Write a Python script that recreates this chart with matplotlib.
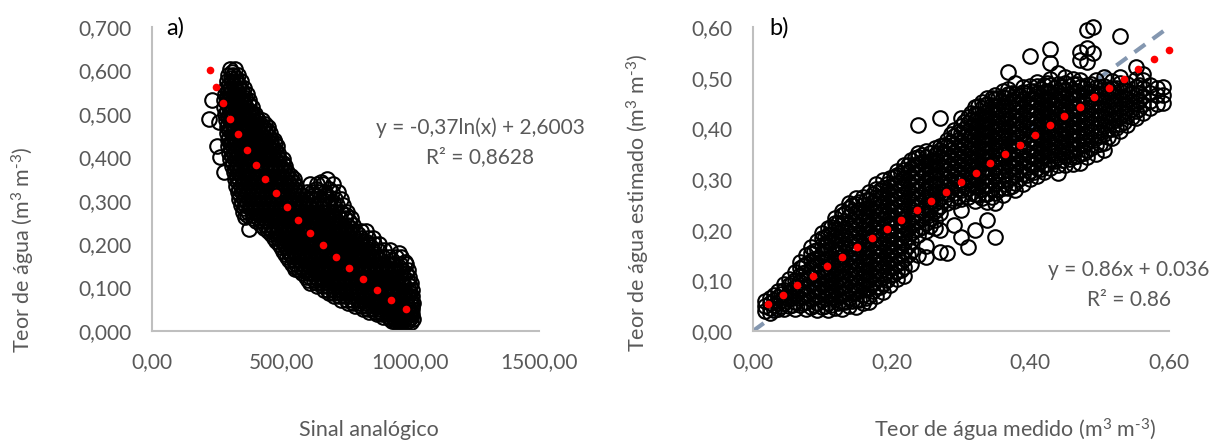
import matplotlib
matplotlib.use('Agg')
import matplotlib.pyplot as plt
from matplotlib.ticker import FuncFormatter, MultipleLocator

plt.rcParams['font.family'] = ['Lato', 'DejaVu Sans']
plt.rcParams['mathtext.fontset'] = 'custom'
plt.rcParams['mathtext.rm'] = 'Lato'
plt.rcParams['mathtext.it'] = 'Lato:italic'
plt.rcParams['mathtext.default'] = 'rm'

CINZA = '#595959'

# ---- painel a) : teor de agua x sinal analogico (linhas do grafico lidas a olho)
teor_a_niveis = [0.603, 0.590, 0.575, 0.560, 0.545, 0.531, 0.515, 0.500, 0.489, 0.485,
                 0.481, 0.470, 0.455, 0.440, 0.425, 0.410, 0.401, 0.395, 0.380, 0.366,
                 0.350, 0.338, 0.335, 0.320, 0.305, 0.290, 0.275, 0.263, 0.260, 0.245,
                 0.234, 0.230, 0.215, 0.200, 0.186, 0.185, 0.179, 0.170, 0.160, 0.155,
                 0.142, 0.140, 0.125, 0.110, 0.095, 0.080, 0.065, 0.050, 0.038, 0.028,
                 0.020]
sinal_a_linhas = [
    [304, 321],
    [296, 313, 333],
    [291, 309, 326, 344],
    [286, 303, 321, 338, 357],
    [283, 297, 316, 333, 351, 370],
    [233, 280, 294, 313, 331, 352, 375],
    [281, 299, 311, 329, 348, 366, 386],
    [284, 297, 316, 335, 351, 372, 389, 400],
    [221],
    [287, 304, 320, 341, 359, 377, 396, 411, 426],
    [259],
    [289, 302, 322, 339, 356, 375, 394, 414, 431, 451],
    [291, 309, 328, 344, 365, 383, 399, 420, 440, 457],
    [293, 311, 330, 351, 368, 386, 405, 422, 445, 461, 472],
    [251, 296, 314, 333, 349, 371, 390, 408, 427, 448, 466, 484],
    [299, 318, 336, 355, 373, 392, 413, 431, 452, 470, 488],
    [263],
    [303, 320, 341, 358, 379, 396, 417, 434, 455, 475, 493, 506],
    [309, 325, 344, 364, 381, 402, 420, 441, 460, 478, 498, 516],
    [278, 316, 333, 352, 370, 389, 410, 427, 448, 466, 487, 506, 523],
    [321, 338, 358, 375, 395, 414, 433, 452, 473, 492, 512, 533, 551, 677],
    [612, 640, 662, 700],
    [326, 344, 363, 381, 400, 420, 440, 459, 479, 497, 518, 540, 558],
    [333, 350, 369, 388, 407, 426, 446, 465, 485, 505, 524, 546, 566, 601, 622, 648, 671, 696, 722],
    [339, 357, 375, 394, 414, 434, 452, 474, 492, 513, 533, 553, 574, 595, 616, 637, 660, 684, 708, 731],
    [346, 362, 381, 401, 419, 440, 459, 480, 500, 520, 541, 560, 582, 603, 624, 646, 668, 691, 717, 741],
    [353, 372, 392, 412, 430, 451, 472, 491, 512, 532, 554, 575, 594, 617, 638, 661, 683, 707, 731, 756],
    [360],
    [393, 412, 431, 452, 471, 492, 511, 532, 553, 573, 594, 613, 635, 657, 678, 701, 724, 747, 771],
    [421, 439, 460, 480, 499, 520, 541, 561, 582, 601, 623, 645, 666, 688, 709, 733, 756, 781],
    [375],
    [449, 467, 488, 507, 528, 548, 569, 590, 610, 631, 653, 674, 697, 718, 741, 764, 788, 812, 831],
    [471, 489, 510, 530, 549, 570, 591, 612, 632, 654, 676, 697, 719, 741, 764, 787, 811, 836, 858],
    [493, 511, 531, 552, 573, 593, 614, 635, 657, 678, 699, 722, 744, 766, 789, 813, 837, 861, 881],
    [898, 921],
    [509, 527, 548, 568, 589, 610, 631, 652, 674, 696, 718, 740, 762, 785, 808, 832, 855, 879],
    [958],
    [523, 542, 562, 583, 604, 625, 646, 668, 689, 711, 733, 755, 778, 801, 824, 847, 871, 895, 920, 944, 966],
    [981],
    [541, 559, 580, 600, 621, 643, 664, 685, 707, 729, 752, 774, 797, 820, 843, 866, 889, 912, 936, 960, 983],
    [555],
    [571, 589, 610, 631, 652, 673, 694, 717, 739, 761, 784, 806, 829, 852, 875, 898, 921, 944, 968, 991],
    [596, 614, 635, 656, 677, 699, 720, 742, 765, 787, 810, 832, 855, 878, 901, 924, 947, 971, 996],
    [613, 638, 657, 678, 700, 722, 744, 766, 789, 811, 834, 857, 880, 903, 926, 950, 973, 1003],
    [666, 684, 705, 727, 749, 771, 793, 816, 838, 861, 884, 907, 930, 953, 976, 997, 1009],
    [706, 724, 746, 768, 790, 812, 835, 857, 880, 903, 926, 949, 972, 994, 1009],
    [761, 781, 803, 825, 847, 870, 892, 915, 938, 961, 983, 1004, 1011],
    [816, 836, 858, 880, 903, 925, 948, 970, 992, 1007],
    [871, 891, 912, 933, 955, 976, 996, 1008],
    [921, 939, 958, 977, 996, 1012],
    [946, 964, 983, 1003],
]

# pontos do miolo da nuvem, entre as linhas acima
teor_a_meio = [0.5975, 0.5825, 0.5675, 0.5525, 0.5375, 0.5230, 0.5075, 0.4925, 0.4775, 0.4625,
               0.4475, 0.4325, 0.4175, 0.4025, 0.3875, 0.3725, 0.3575, 0.3425, 0.3275, 0.3125,
               0.2975, 0.2825, 0.2675, 0.2525, 0.2375, 0.2225, 0.2075, 0.1925, 0.1775, 0.1625,
               0.1475, 0.1325, 0.1175, 0.1025, 0.0875, 0.0725, 0.0575, 0.0440, 0.0330, 0.0240]
sinal_a_meio = [
    [312],
    [305, 325],
    [299, 317, 336],
    [294, 312, 330, 348],
    [290, 307, 324, 342, 361],
    [289, 305, 321, 339, 357, 376],
    [291, 308, 325, 343, 360, 380],
    [293, 311, 329, 347, 366, 384, 404],
    [296, 313, 331, 349, 367, 386, 404, 420, 438],
    [298, 317, 334, 353, 371, 390, 408, 426, 445],
    [300, 319, 339, 357, 377, 396, 414, 433, 452],
    [304, 323, 342, 361, 381, 399, 418, 437, 456, 475],
    [307, 326, 346, 364, 384, 403, 422, 441, 460, 478],
    [310, 330, 349, 369, 388, 407, 426, 446, 465, 484],
    [314, 334, 354, 373, 393, 412, 431, 451, 470, 489, 507],
    [320, 340, 359, 379, 398, 418, 437, 457, 476, 495, 513],
    [327, 347, 366, 386, 405, 424, 444, 463, 483, 502, 522, 540],
    [332, 352, 372, 391, 410, 430, 450, 469, 489, 508, 528, 546, 655],
    [338, 358, 377, 397, 416, 436, 456, 475, 495, 514, 534, 553, 636, 686],
    [343, 362, 382, 402, 422, 442, 461, 481, 500, 520, 540, 560, 580, 628, 676],
    [350, 370, 390, 410, 430, 450, 470, 490, 510, 530, 550, 570, 590, 612, 657, 703],
    [357, 378, 398, 418, 438, 458, 478, 498, 518, 538, 558, 578, 598, 620, 664, 710],
    [370, 392, 414, 434, 454, 474, 494, 514, 534, 555, 575, 596, 617, 638, 660, 704, 750],
    [405, 426, 446, 466, 486, 506, 527, 547, 567, 588, 609, 630, 651, 672, 694, 716, 762],
    [433, 454, 474, 494, 515, 535, 555, 576, 597, 618, 639, 660, 681, 703, 725, 748, 771],
    [460, 480, 500, 520, 540, 560, 581, 602, 623, 644, 665, 686, 708, 730, 752, 775, 799],
    [482, 502, 522, 542, 562, 583, 604, 625, 646, 667, 689, 711, 733, 755, 778, 801, 825],
    [500, 520, 541, 562, 583, 604, 625, 646, 667, 689, 711, 733, 755, 778, 801, 824, 848],
    [516, 536, 557, 578, 599, 620, 641, 663, 685, 707, 729, 751, 773, 796, 819, 842, 866],
    [532, 552, 573, 594, 615, 636, 657, 679, 701, 723, 745, 767, 790, 813, 836, 859, 882, 930],
    [556, 576, 597, 618, 639, 660, 682, 704, 726, 748, 771, 794, 817, 840, 863, 886, 909, 957],
    [583, 603, 624, 645, 666, 688, 710, 732, 754, 777, 800, 823, 846, 869, 892, 915, 938, 962, 986],
    [604, 626, 647, 668, 690, 712, 734, 756, 779, 802, 825, 848, 871, 894, 917, 940, 964, 988],
    [640, 661, 682, 704, 726, 748, 771, 794, 817, 840, 863, 886, 909, 932, 955, 978, 1000],
    [686, 706, 728, 750, 772, 795, 818, 841, 864, 887, 910, 933, 956, 979, 1001],
    [733, 754, 776, 799, 822, 845, 868, 891, 914, 937, 960, 983, 1004],
    [788, 810, 832, 855, 878, 901, 924, 947, 970, 993, 1008],
    [843, 866, 889, 912, 935, 958, 980, 1002],
    [895, 917, 939, 961, 983, 1003],
    [930, 952, 974, 994],
]

# linha de tendencia (pontos vermelhos)
sinal_tend = [223, 248, 274, 302, 334, 367, 402, 439, 480, 522,
              566, 614, 664, 713, 764, 817, 873, 928, 984]
teor_tend = [0.600, 0.562, 0.524, 0.488, 0.453, 0.416, 0.383, 0.349, 0.317, 0.285,
             0.255, 0.226, 0.197, 0.170, 0.144, 0.120, 0.095, 0.072, 0.051]

# ---- painel b) : teor estimado x teor medido (colunas lidas a olho)
medido_b_colunas = [0.018, 0.024, 0.030, 0.036, 0.044, 0.052, 0.060, 0.068, 0.076, 0.084,
                    0.092, 0.100, 0.108, 0.118, 0.128, 0.138, 0.148, 0.158, 0.168, 0.178,
                    0.188, 0.198, 0.208, 0.218, 0.228, 0.238, 0.250, 0.262, 0.270, 0.280,
                    0.290, 0.300, 0.310, 0.320, 0.330, 0.338, 0.349, 0.360, 0.368, 0.378,
                    0.390, 0.400, 0.410, 0.420, 0.428, 0.440, 0.450, 0.462, 0.472, 0.482,
                    0.490, 0.494, 0.506, 0.518, 0.530, 0.540, 0.552, 0.562, 0.572, 0.582,
                    0.592]
estimado_b_colunas = [
    [0.040, 0.050, 0.060],
    [0.036, 0.046, 0.055, 0.066],
    [0.041, 0.051, 0.061, 0.071],
    [0.044, 0.056, 0.067, 0.078],
    [0.043, 0.055, 0.068, 0.081, 0.093],
    [0.049, 0.063, 0.076, 0.090, 0.103],
    [0.044, 0.058, 0.071, 0.086, 0.101, 0.117],
    [0.051, 0.066, 0.080, 0.096, 0.111, 0.124, 0.136],
    [0.044, 0.058, 0.072, 0.087, 0.103, 0.117, 0.133, 0.150],
    [0.048, 0.064, 0.079, 0.093, 0.109, 0.124, 0.139, 0.153, 0.166],
    [0.042, 0.056, 0.070, 0.085, 0.100, 0.115, 0.131, 0.145, 0.160, 0.177],
    [0.047, 0.062, 0.078, 0.093, 0.108, 0.122, 0.138, 0.153, 0.169, 0.183, 0.193],
    [0.041, 0.055, 0.069, 0.084, 0.099, 0.114, 0.129, 0.144, 0.159, 0.175, 0.190, 0.204],
    [0.046, 0.063, 0.079, 0.094, 0.110, 0.125, 0.141, 0.156, 0.171, 0.186, 0.201, 0.214, 0.223],
    [0.044, 0.058, 0.073, 0.088, 0.103, 0.118, 0.134, 0.149, 0.165, 0.181, 0.197, 0.213, 0.229, 0.237],
    [0.050, 0.066, 0.083, 0.099, 0.115, 0.131, 0.147, 0.163, 0.179, 0.195, 0.211, 0.227, 0.243, 0.253],
    [0.047, 0.061, 0.076, 0.091, 0.107, 0.122, 0.138, 0.154, 0.170, 0.186, 0.202, 0.218, 0.234, 0.250, 0.262],
    [0.055, 0.072, 0.089, 0.105, 0.121, 0.137, 0.153, 0.169, 0.185, 0.201, 0.217, 0.233, 0.249, 0.264],
    [0.057, 0.070, 0.085, 0.100, 0.116, 0.132, 0.147, 0.163, 0.179, 0.195, 0.211, 0.227, 0.243, 0.259, 0.274],
    [0.069, 0.087, 0.104, 0.120, 0.136, 0.152, 0.168, 0.184, 0.200, 0.216, 0.232, 0.248, 0.264, 0.280, 0.291],
    [0.076, 0.092, 0.107, 0.122, 0.138, 0.155, 0.171, 0.186, 0.202, 0.219, 0.235, 0.251, 0.267, 0.283, 0.298],
    [0.091, 0.110, 0.127, 0.143, 0.159, 0.175, 0.191, 0.207, 0.223, 0.239, 0.255, 0.271, 0.287, 0.301],
    [0.103, 0.118, 0.133, 0.149, 0.165, 0.181, 0.197, 0.213, 0.229, 0.245, 0.261, 0.277, 0.293, 0.308, 0.316],
    [0.108, 0.127, 0.143, 0.158, 0.174, 0.190, 0.206, 0.222, 0.238, 0.254, 0.270, 0.286, 0.302, 0.318, 0.327],
    [0.133, 0.158, 0.177, 0.193, 0.209, 0.225, 0.241, 0.257, 0.273, 0.289, 0.305, 0.321, 0.337],
    [0.150, 0.190, 0.202, 0.217, 0.233, 0.249, 0.265, 0.281, 0.297, 0.313, 0.329, 0.344, 0.352, 0.406],
    [0.147, 0.167, 0.198, 0.214, 0.230, 0.247, 0.263, 0.279, 0.295, 0.311, 0.327, 0.343, 0.356],
    [0.203, 0.220, 0.236, 0.252, 0.268, 0.284, 0.300, 0.316, 0.332, 0.348, 0.361],
    [0.155, 0.199, 0.232, 0.247, 0.262, 0.277, 0.293, 0.309, 0.325, 0.341, 0.357, 0.366, 0.420],
    [0.153, 0.252, 0.270, 0.286, 0.302, 0.318, 0.334, 0.350, 0.365, 0.376],
    [0.210, 0.257, 0.273, 0.289, 0.305, 0.321, 0.337, 0.353, 0.369, 0.384, 0.396],
    [0.186, 0.239, 0.260, 0.278, 0.294, 0.310, 0.326, 0.342, 0.358, 0.374, 0.390, 0.404, 0.420],
    [0.166, 0.264, 0.282, 0.298, 0.314, 0.330, 0.346, 0.362, 0.378, 0.394, 0.410, 0.422],
    [0.199, 0.256, 0.271, 0.286, 0.302, 0.318, 0.334, 0.350, 0.366, 0.382, 0.398, 0.414, 0.428, 0.442],
    [0.262, 0.280, 0.297, 0.313, 0.329, 0.345, 0.361, 0.377, 0.393, 0.409, 0.425, 0.440, 0.451],
    [0.219, 0.255, 0.271, 0.287, 0.304, 0.320, 0.336, 0.352, 0.369, 0.385, 0.401, 0.417, 0.433, 0.448, 0.459],
    [0.185, 0.253, 0.272, 0.290, 0.307, 0.324, 0.341, 0.358, 0.375, 0.392, 0.409, 0.426, 0.443, 0.458, 0.466],
    [0.268, 0.283, 0.299, 0.315, 0.331, 0.348, 0.364, 0.380, 0.397, 0.413, 0.429, 0.445, 0.461, 0.474],
    [0.282, 0.300, 0.317, 0.334, 0.351, 0.368, 0.385, 0.402, 0.419, 0.436, 0.452, 0.467, 0.478, 0.511],
    [0.278, 0.292, 0.308, 0.324, 0.340, 0.356, 0.372, 0.388, 0.404, 0.420, 0.436, 0.452, 0.468, 0.489],
    [0.291, 0.309, 0.325, 0.342, 0.358, 0.375, 0.391, 0.408, 0.424, 0.441, 0.457, 0.472, 0.481],
    [0.300, 0.315, 0.330, 0.346, 0.362, 0.378, 0.394, 0.410, 0.426, 0.442, 0.458, 0.474, 0.484, 0.543],
    [0.305, 0.322, 0.339, 0.356, 0.372, 0.388, 0.404, 0.421, 0.437, 0.453, 0.469, 0.483, 0.491],
    [0.313, 0.328, 0.343, 0.359, 0.375, 0.391, 0.407, 0.423, 0.439, 0.455, 0.471, 0.486],
    [0.322, 0.340, 0.357, 0.373, 0.390, 0.406, 0.422, 0.438, 0.455, 0.471, 0.486, 0.497, 0.529, 0.556],
    [0.312, 0.328, 0.344, 0.360, 0.376, 0.392, 0.408, 0.424, 0.440, 0.456, 0.472, 0.488, 0.509],
    [0.327, 0.345, 0.361, 0.378, 0.394, 0.411, 0.427, 0.443, 0.459, 0.475, 0.490, 0.501],
    [0.330, 0.344, 0.360, 0.376, 0.392, 0.408, 0.424, 0.440, 0.456, 0.472, 0.488, 0.497],
    [0.331, 0.350, 0.367, 0.384, 0.401, 0.417, 0.433, 0.449, 0.465, 0.481, 0.495, 0.534, 0.551],
    [0.343, 0.358, 0.373, 0.389, 0.405, 0.421, 0.437, 0.453, 0.469, 0.485, 0.531, 0.558, 0.594],
    [0.548, 0.600],
    [0.350, 0.368, 0.385, 0.401, 0.418, 0.434, 0.450, 0.466, 0.482, 0.496],
    [0.357, 0.372, 0.388, 0.404, 0.420, 0.436, 0.452, 0.468, 0.484, 0.501],
    [0.380, 0.398, 0.414, 0.431, 0.447, 0.463, 0.479, 0.494],
    [0.395, 0.409, 0.425, 0.441, 0.457, 0.473, 0.489, 0.501, 0.582],
    [0.406, 0.424, 0.441, 0.457, 0.473, 0.488],
    [0.420, 0.434, 0.450, 0.466, 0.482, 0.498, 0.521],
    [0.430, 0.448, 0.464, 0.480, 0.495, 0.508],
    [0.440, 0.454, 0.470, 0.486],
    [0.448, 0.465, 0.480],
    [0.450, 0.466, 0.481],
]

# pontos do miolo da nuvem, entre as colunas acima
medido_b_meio = [0.040, 0.056, 0.072, 0.088, 0.104, 0.113, 0.123, 0.133, 0.143, 0.153,
                 0.163, 0.173, 0.183, 0.193, 0.203, 0.213, 0.223, 0.233, 0.244, 0.256,
                 0.266, 0.275, 0.285, 0.295, 0.305, 0.315, 0.325, 0.334, 0.344, 0.354,
                 0.364, 0.373, 0.384, 0.395, 0.405, 0.415, 0.424, 0.434, 0.445, 0.456,
                 0.467, 0.477, 0.488, 0.500, 0.512, 0.524, 0.535, 0.546, 0.557]
estimado_b_meio = [
    [0.050, 0.062, 0.074],
    [0.052, 0.066, 0.080, 0.094],
    [0.055, 0.070, 0.085, 0.100, 0.115, 0.128],
    [0.052, 0.067, 0.082, 0.097, 0.112, 0.127, 0.142, 0.157],
    [0.050, 0.065, 0.080, 0.095, 0.110, 0.125, 0.140, 0.155, 0.170, 0.185],
    [0.052, 0.068, 0.083, 0.099, 0.114, 0.130, 0.145, 0.161, 0.176, 0.192, 0.206],
    [0.055, 0.071, 0.087, 0.103, 0.119, 0.135, 0.151, 0.167, 0.183, 0.199, 0.214],
    [0.057, 0.073, 0.089, 0.105, 0.121, 0.137, 0.153, 0.169, 0.185, 0.201, 0.217, 0.232],
    [0.060, 0.076, 0.092, 0.108, 0.124, 0.140, 0.156, 0.172, 0.188, 0.204, 0.220, 0.236, 0.248],
    [0.062, 0.079, 0.095, 0.111, 0.127, 0.143, 0.159, 0.175, 0.191, 0.207, 0.223, 0.239, 0.255],
    [0.066, 0.082, 0.098, 0.114, 0.130, 0.146, 0.162, 0.178, 0.194, 0.210, 0.226, 0.242, 0.258],
    [0.078, 0.094, 0.110, 0.126, 0.142, 0.158, 0.174, 0.190, 0.206, 0.222, 0.238, 0.254, 0.270],
    [0.086, 0.102, 0.118, 0.134, 0.150, 0.166, 0.182, 0.198, 0.214, 0.230, 0.246, 0.262, 0.278],
    [0.100, 0.116, 0.132, 0.148, 0.164, 0.180, 0.196, 0.212, 0.228, 0.244, 0.260, 0.276, 0.290],
    [0.112, 0.128, 0.144, 0.160, 0.176, 0.192, 0.208, 0.224, 0.240, 0.256, 0.272, 0.288, 0.304],
    [0.120, 0.136, 0.152, 0.168, 0.184, 0.200, 0.216, 0.232, 0.248, 0.264, 0.280, 0.296, 0.311],
    [0.150, 0.168, 0.185, 0.201, 0.217, 0.233, 0.249, 0.265, 0.281, 0.297, 0.313, 0.328],
    [0.200, 0.215, 0.231, 0.247, 0.263, 0.279, 0.295, 0.311, 0.327, 0.342],
    [0.205, 0.221, 0.237, 0.253, 0.269, 0.285, 0.301, 0.317, 0.333, 0.347],
    [0.208, 0.224, 0.240, 0.256, 0.272, 0.288, 0.304, 0.320, 0.336, 0.351],
    [0.240, 0.256, 0.272, 0.288, 0.304, 0.320, 0.336, 0.352],
    [0.258, 0.274, 0.290, 0.306, 0.322, 0.338, 0.354, 0.368],
    [0.262, 0.278, 0.294, 0.310, 0.326, 0.342, 0.358, 0.374, 0.388],
    [0.265, 0.281, 0.297, 0.313, 0.329, 0.345, 0.361, 0.377, 0.393],
    [0.270, 0.286, 0.302, 0.318, 0.334, 0.350, 0.366, 0.382, 0.398, 0.412],
    [0.272, 0.288, 0.304, 0.320, 0.336, 0.352, 0.368, 0.384, 0.400, 0.416, 0.430],
    [0.268, 0.284, 0.300, 0.316, 0.332, 0.348, 0.364, 0.380, 0.396, 0.412, 0.428, 0.444],
    [0.270, 0.287, 0.303, 0.319, 0.335, 0.351, 0.367, 0.383, 0.399, 0.415, 0.431, 0.447],
    [0.265, 0.281, 0.298, 0.314, 0.331, 0.347, 0.364, 0.380, 0.397, 0.413, 0.430, 0.446, 0.460],
    [0.279, 0.296, 0.312, 0.329, 0.345, 0.362, 0.378, 0.395, 0.411, 0.428, 0.444, 0.460],
    [0.291, 0.308, 0.325, 0.342, 0.359, 0.376, 0.393, 0.410, 0.427, 0.444, 0.460],
    [0.287, 0.304, 0.321, 0.338, 0.355, 0.372, 0.389, 0.406, 0.423, 0.440, 0.456, 0.470],
    [0.300, 0.317, 0.334, 0.350, 0.366, 0.383, 0.400, 0.416, 0.432, 0.449, 0.465],
    [0.308, 0.323, 0.338, 0.354, 0.370, 0.386, 0.402, 0.418, 0.434, 0.450, 0.466],
    [0.313, 0.330, 0.346, 0.362, 0.378, 0.394, 0.410, 0.426, 0.442, 0.458, 0.474],
    [0.320, 0.336, 0.352, 0.368, 0.384, 0.400, 0.416, 0.432, 0.448, 0.464, 0.478],
    [0.330, 0.346, 0.362, 0.378, 0.394, 0.410, 0.426, 0.442, 0.458, 0.474, 0.490],
    [0.335, 0.351, 0.367, 0.383, 0.399, 0.415, 0.431, 0.447, 0.463, 0.479],
    [0.337, 0.353, 0.369, 0.385, 0.401, 0.417, 0.433, 0.449, 0.465, 0.481],
    [0.340, 0.356, 0.372, 0.388, 0.404, 0.420, 0.436, 0.452, 0.468, 0.483],
    [0.345, 0.361, 0.377, 0.393, 0.409, 0.425, 0.441, 0.457, 0.473, 0.488],
    [0.352, 0.368, 0.384, 0.400, 0.416, 0.432, 0.448, 0.464, 0.480],
    [0.362, 0.378, 0.394, 0.410, 0.426, 0.442, 0.458, 0.474, 0.488],
    [0.370, 0.386, 0.402, 0.418, 0.434, 0.450, 0.466, 0.482],
    [0.382, 0.398, 0.414, 0.430, 0.446, 0.462, 0.478],
    [0.400, 0.416, 0.432, 0.448, 0.464, 0.480],
    [0.412, 0.428, 0.444, 0.460, 0.476],
    [0.422, 0.438, 0.454, 0.470],
    [0.438, 0.454, 0.470, 0.486],
]

medido_tend = [0.022, 0.043, 0.064, 0.086, 0.107, 0.128, 0.150, 0.171, 0.193, 0.214,
               0.236, 0.257, 0.278, 0.300, 0.321, 0.342, 0.364, 0.385, 0.407, 0.428,
               0.449, 0.471, 0.492, 0.514, 0.535, 0.556, 0.578, 0.600]
estimado_tend = [0.053, 0.072, 0.090, 0.109, 0.128, 0.146, 0.165, 0.183, 0.201, 0.220,
                 0.239, 0.257, 0.275, 0.294, 0.312, 0.331, 0.350, 0.368, 0.387, 0.406,
                 0.425, 0.443, 0.461, 0.480, 0.498, 0.517, 0.536, 0.554]


def achatar_linhas(niveis, linhas):
    xs, ys = [], []
    for y, lista in zip(niveis, linhas):
        for x in lista:
            xs.append(x)
            ys.append(y)
    return xs, ys


def achatar_colunas(niveis, colunas):
    xs, ys = [], []
    for x, lista in zip(niveis, colunas):
        for y in lista:
            xs.append(x)
            ys.append(y)
    return xs, ys


def virgula(casas):
    return FuncFormatter(lambda v, p: ('{:.%df}' % casas).format(v).replace('.', ','))


def estilo(ax):
    for lado in ['top', 'right']:
        ax.spines[lado].set_visible(False)
    for lado in ['left', 'bottom']:
        ax.spines[lado].set_color('#BFBFBF')
        ax.spines[lado].set_linewidth(1.5)
    ax.tick_params(length=0, labelsize=15, labelcolor=CINZA, pad=15)


fig = plt.figure(figsize=(12.11, 4.43), dpi=100)
W, H = 1211.0, 443.0
aneis = dict(ms=10.5, mfc='none', mec='black', mew=1.5, clip_on=False, zorder=2, ls='none')

# painel a
ax1 = fig.add_axes([152 / W, 1 - 331 / H, (539 - 152) / W, (331 - 27) / H])
xa, ya = achatar_linhas(teor_a_niveis, sinal_a_linhas)
xa2, ya2 = achatar_linhas(teor_a_meio, sinal_a_meio)
ax1.plot(xa + xa2, ya + ya2, marker='o', **aneis)
ax1.plot(sinal_tend, teor_tend, 'o', ms=5.5, color='#FF0000', mec='none', zorder=3, clip_on=False)
ax1.set_xlim(0, 1500)
ax1.set_ylim(0, 0.7)
ax1.xaxis.set_major_locator(MultipleLocator(500))
ax1.yaxis.set_major_locator(MultipleLocator(0.1))
ax1.xaxis.set_major_formatter(virgula(2))
ax1.yaxis.set_major_formatter(virgula(3))
estilo(ax1)

# painel b
ax2 = fig.add_axes([753 / W, 1 - 331 / H, (1169 - 753) / W, (331 - 27) / H])
ax2.plot([0, 0.6], [0, 0.6], color='#8497B0', lw=3, dashes=(3.2, 2.2), zorder=1,
         solid_capstyle='butt')
xb, yb = achatar_colunas(medido_b_colunas, estimado_b_colunas)
xb2, yb2 = achatar_colunas(medido_b_meio, estimado_b_meio)
ax2.plot(xb + xb2, yb + yb2, marker='o', **aneis)
ax2.plot(medido_tend, estimado_tend, 'o', ms=5.5, color='#FF0000', mec='none', zorder=3, clip_on=False)
ax2.set_xlim(0, 0.6)
ax2.set_ylim(0, 0.6)
ax2.xaxis.set_major_locator(MultipleLocator(0.2))
ax2.yaxis.set_major_locator(MultipleLocator(0.1))
ax2.xaxis.set_major_formatter(virgula(2))
ax2.yaxis.set_major_formatter(virgula(2))
estilo(ax2)

# textos
def px(x, y):
    return x / W, 1 - y / H

fig.text(*px(175, 28), 'a)', fontsize=17, color='black', ha='center', va='center')
fig.text(*px(779, 28), 'b)', fontsize=17, color='black', ha='center', va='center')

fig.text(*px(480, 128), 'y = -0,37ln(x) + 2,6003', fontsize=15, color=CINZA, ha='center', va='center')
fig.text(*px(480, 157), 'R² = 0,8628', fontsize=15, color=CINZA, ha='center', va='center')
fig.text(*px(1129, 270), 'y = 0.86x + 0.036', fontsize=15, color=CINZA, ha='center', va='center')
fig.text(*px(1129, 300), 'R² = 0.86', fontsize=15, color=CINZA, ha='center', va='center')

unid = '(m$^3$ m$^{\\text{-}3}$)'
fig.text(*px(369, 430), 'Sinal analógico', fontsize=15.5, color=CINZA, ha='center', va='center')
fig.text(*px(1015, 430), 'Teor de água medido ' + unid, fontsize=15.5, color=CINZA,
         ha='center', va='center')
fig.text(*px(23, 250), 'Teor de água ' + unid, fontsize=15.5, color=CINZA,
         ha='center', va='center', rotation=90)
fig.text(*px(638, 203), 'Teor de água estimado ' + unid, fontsize=15.5, color=CINZA,
         ha='center', va='center', rotation=90)

fig.savefig('out.png', dpi=100)
